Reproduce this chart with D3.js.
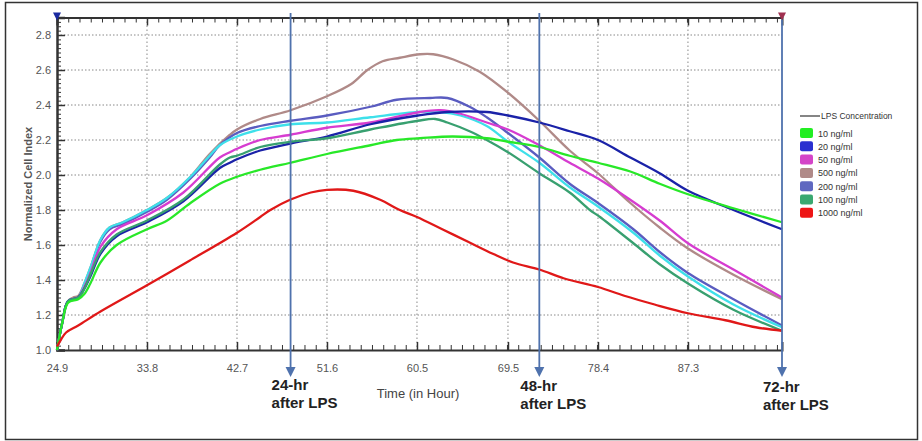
<!DOCTYPE html>
<html>
<head>
<meta charset="utf-8">
<script src="https://cdn.jsdelivr.net/npm/d3@7"></script>
<style>
  body { margin: 0; background: #fff; }
  svg { display: block; font-family: "Liberation Sans", Arial, sans-serif; }
  .tick text { fill: #555; font-size: 11px; font-family: "Liberation Sans Narrow", "Liberation Sans", Arial, sans-serif; }
</style>
</head>
<body>
<div id="chart"></div>
<script>
// x tick labels (hours) and y ticks
var xTicks = [24.9, 33.8, 42.7, 51.6, 60.5, 69.5, 78.4, 87.3];
var yTicks = [1.0, 1.2, 1.4, 1.6, 1.8, 2.0, 2.2, 2.4, 2.6, 2.8];

// [hour, normalized cell index]
var lps10 = [[24.9,1.0],[25.4,1.15],[26.0,1.27],[27.0,1.29],[27.6,1.32],[28.2,1.38],[29.2,1.50],[30.8,1.60],[33.8,1.69],[35.8,1.74],[38.1,1.84],[41.0,1.95],[42.7,1.99],[45,2.03],[48.0,2.07],[51.6,2.12],[55.9,2.17],[58.5,2.20],[60.8,2.21],[64,2.22],[67.4,2.21],[69.5,2.19],[72.6,2.16],[75.6,2.11],[78.4,2.07],[81.6,2.02],[84.5,1.95],[87.3,1.89],[91.8,1.81],[96.6,1.73]];
var lps20 = [[24.9,1.0],[25.4,1.15],[26.0,1.28],[27.0,1.30],[27.6,1.35],[28.2,1.42],[29.2,1.55],[30.8,1.65],[33.8,1.73],[37.4,1.85],[41.0,2.04],[42.0,2.07],[42.7,2.09],[45,2.14],[48.0,2.18],[51.6,2.22],[55.9,2.29],[60.6,2.34],[63.5,2.36],[67.4,2.36],[69.5,2.34],[72.6,2.30],[75.6,2.25],[78.4,2.20],[81.6,2.10],[84.5,2.01],[87.3,1.91],[91.8,1.80],[96.6,1.69]];
var lps50 = [[24.9,1.0],[25.4,1.15],[26.0,1.28],[27.0,1.30],[27.6,1.36],[28.2,1.44],[29.2,1.59],[30.8,1.69],[33.8,1.77],[37.4,1.90],[41.0,2.10],[42.0,2.13],[42.7,2.15],[45,2.20],[48.0,2.23],[51.6,2.27],[55.9,2.30],[60.8,2.36],[62.8,2.37],[64.8,2.35],[67.4,2.30],[69.5,2.26],[72.6,2.17],[75.6,2.07],[78.4,1.98],[81.3,1.87],[84.5,1.74],[87.3,1.61],[91.8,1.46],[96.6,1.30]];
var lps500 = [[24.9,1.0],[25.4,1.15],[26.0,1.28],[26.5,1.30],[27.0,1.31],[27.6,1.38],[28.2,1.47],[29.2,1.63],[30.1,1.70],[31.4,1.73],[33.8,1.80],[35.8,1.87],[38.1,1.99],[40.0,2.12],[42.0,2.23],[42.7,2.26],[45,2.32],[48.0,2.37],[51.6,2.45],[54,2.52],[55.6,2.60],[57.1,2.65],[58.8,2.67],[60.8,2.69],[62.1,2.69],[64.1,2.66],[66.7,2.59],[69.5,2.47],[72.6,2.31],[75.6,2.14],[78.4,2.01],[81.6,1.84],[84.5,1.70],[87.3,1.58],[91.8,1.43],[96.6,1.29]];
var lps200 = [[24.9,1.0],[25.4,1.15],[26.0,1.28],[27.0,1.30],[27.6,1.37],[28.2,1.46],[29.2,1.62],[30.1,1.69],[31.4,1.72],[33.8,1.79],[35.8,1.86],[38.1,1.98],[40.0,2.10],[41.0,2.17],[42.7,2.24],[45,2.28],[48.0,2.31],[51.6,2.34],[55.9,2.39],[58.5,2.43],[61.8,2.44],[63.5,2.44],[65.7,2.39],[67.4,2.33],[69.5,2.24],[72.6,2.10],[75.6,1.95],[78.4,1.84],[81.9,1.69],[84.5,1.56],[87.3,1.44],[91.8,1.29],[96.6,1.14]];
var lps100 = [[24.9,1.0],[25.4,1.15],[26.0,1.28],[27.0,1.30],[27.6,1.35],[28.2,1.43],[29.2,1.56],[30.8,1.66],[33.8,1.74],[37.4,1.86],[41.0,2.06],[42.0,2.10],[42.7,2.11],[45,2.16],[48.0,2.19],[51.6,2.21],[55.9,2.26],[60.6,2.31],[62.3,2.32],[63.5,2.30],[65.7,2.25],[67.4,2.20],[69.5,2.13],[72.6,2.01],[75.6,1.90],[77.6,1.80],[78.6,1.76],[81.9,1.61],[84.5,1.49],[87.3,1.38],[91.8,1.23],[96.6,1.11]];
var lps1000 = [[24.9,1.02],[25.3,1.06],[25.8,1.10],[27,1.14],[29.2,1.22],[33.8,1.37],[38,1.51],[42.7,1.67],[45,1.76],[46,1.80],[48,1.86],[50,1.90],[51.6,1.915],[54.2,1.91],[56.8,1.86],[58.8,1.80],[60.5,1.76],[63,1.69],[65.5,1.62],[68,1.55],[70,1.50],[72.6,1.46],[75,1.41],[78.4,1.36],[81,1.31],[84,1.26],[87.3,1.21],[91,1.17],[94,1.13],[96.6,1.11]];
// cyan trace, not listed in the legend
var unlabeled = [[24.9,1.0],[25.4,1.15],[26.0,1.28],[27.0,1.30],[27.6,1.38],[28.2,1.47],[29.2,1.63],[30.1,1.70],[31.4,1.73],[33.8,1.80],[35.8,1.87],[38.1,1.99],[40.0,2.11],[41.0,2.17],[42.7,2.22],[45,2.26],[48.0,2.29],[51.6,2.30],[55.9,2.33],[60.6,2.36],[62.8,2.36],[64.8,2.34],[67.4,2.28],[69.5,2.19],[72.6,2.07],[75.6,1.93],[78.4,1.82],[81.9,1.67],[84.5,1.54],[87.3,1.42],[91.8,1.26],[96.6,1.13]];

var legendNames = ["10 ng/ml", "20 ng/ml", "50 ng/ml", "500 ng/ml", "200 ng/ml", "100 ng/ml", "1000 ng/ml"];
var legendColors = ["#22ee22", "#2a30d0", "#d444c8", "#b08a88", "#6068c0", "#3aa870", "#ee1515"];

// markers: hours where the LPS arrows sit
var arrowHours = [48.0, 72.6, 96.6];
var arrowLabels = ["24-hr", "48-hr", "72-hr"];

var width = 922, height = 441;
var svg = d3.select("#chart").append("svg")
    .attr("width", width)
    .attr("height", height);

// outer frame
svg.append("rect")
    .attr("x", 5.5).attr("y", 2.5)
    .attr("width", 912).attr("height", 437)
    .attr("fill", "none")
    .attr("stroke", "#333")
    .attr("stroke-width", 1.5);

var x = d3.scaleLinear().domain([24.9, 96.6]).range([57, 782]);
var y = d3.scaleLinear().domain([1.0, 2.9]).range([350, 17.5]);

// dotted grid
svg.append("g").selectAll("line")
    .data(yTicks.slice(1))
    .enter().append("line")
    .attr("x1", x(24.9)).attr("x2", x(96.6))
    .attr("y1", d => y(d)).attr("y2", d => y(d))
    .attr("stroke", "#888").attr("stroke-dasharray", "1.5,2");
svg.append("g").selectAll("line")
    .data(xTicks.slice(1))
    .enter().append("line")
    .attr("x1", d => x(d)).attr("x2", d => x(d))
    .attr("y1", y(2.9)).attr("y2", y(1.0))
    .attr("stroke", "#888").attr("stroke-dasharray", "1.5,2.5");

// minor ticks
var xMinor = d3.range(24.9, 96.6, 8.9 / 8);
var yMinor = d3.range(1.0, 2.9, 0.025);

svg.append("g")
    .attr("transform", `translate(0,${y(1.0)})`)
    .call(d3.axisBottom(x).tickValues(xMinor).tickSize(-5).tickFormat(""))
    .call(g => g.select(".domain").remove())
    .selectAll("line").attr("stroke", "#333");
svg.append("g")
    .attr("transform", `translate(0,${y(2.9)})`)
    .call(d3.axisTop(x).tickValues(xMinor).tickSize(-5).tickFormat(""))
    .call(g => g.select(".domain").remove())
    .selectAll("line").attr("stroke", "#333");
svg.append("g")
    .attr("transform", `translate(${x(24.9)},0)`)
    .call(d3.axisLeft(y).tickValues(yMinor).tickSize(-4).tickFormat(""))
    .call(g => g.select(".domain").remove())
    .selectAll("line").attr("stroke", "#333");

// major axes
var xAxis = svg.append("g")
    .attr("transform", `translate(0,${y(1.0)})`)
    .call(d3.axisBottom(x).tickValues(xTicks).tickSize(-8).tickPadding(14).tickFormat(d3.format(".1f")));
xAxis.select(".domain").attr("stroke", "#333").attr("stroke-width", 2);
xAxis.selectAll(".tick line").attr("stroke", "#333").attr("stroke-width", 1.5);

var topAxis = svg.append("g")
    .attr("transform", `translate(0,${y(2.9)})`)
    .call(d3.axisTop(x).tickValues(xTicks).tickSize(-8).tickFormat(""));
topAxis.select(".domain").attr("stroke", "#333").attr("stroke-width", 2);
topAxis.selectAll(".tick line").attr("stroke", "#333").attr("stroke-width", 1.5);

var yAxis = svg.append("g")
    .attr("transform", `translate(${x(24.9)},0)`)
    .call(d3.axisLeft(y).tickValues(yTicks).tickSize(-8).tickPadding(6).tickFormat(d3.format(".1f")));
yAxis.select(".domain").attr("stroke", "#333").attr("stroke-width", 2.5);
yAxis.selectAll(".tick line").attr("stroke", "#333").attr("stroke-width", 1.5);

// axis titles
svg.append("text")
    .attr("x", 418).attr("y", 398)
    .attr("text-anchor", "middle")
    .style("font-family", "'Liberation Sans Narrow', 'Liberation Sans', Arial, sans-serif")
    .style("font-size", "13px")
    .attr("fill", "#444")
    .text("Time (in Hour)");
svg.append("text")
    .attr("transform", "translate(32,184) rotate(-90)")
    .attr("text-anchor", "middle")
    .style("font-size", "11px")
    .style("font-weight", "bold")
    .attr("fill", "#555")
    .text("Normalized Cell Index");

// curves
var line = d3.line()
    .x(d => x(d[0]))
    .y(d => y(d[1]))
    .curve(d3.curveCatmullRom.alpha(0.5));

var traces = [
    { data: lps500, color: "#b08a88" },
    { data: lps200, color: "#5a5cc0" },
    { data: unlabeled, color: "#3ee0ea" },
    { data: lps50, color: "#d63cd0" },
    { data: lps20, color: "#1a22a8" },
    { data: lps100, color: "#38a070" },
    { data: lps10, color: "#28e828" },
    { data: lps1000, color: "#e01818" }
];

svg.append("g").selectAll("path")
    .data(traces)
    .enter().append("path")
    .attr("d", d => line(d.data))
    .attr("fill", "none")
    .attr("stroke", d => d.color)
    .attr("stroke-width", 2.3)
    .attr("stroke-linejoin", "round");

// corner markers on the top axis
svg.append("path")
    .attr("d", `M${x(24.9) - 4},${y(2.9) - 5}L${x(24.9) + 4},${y(2.9) - 5}L${x(24.9)},${y(2.9) + 3}Z`)
    .attr("fill", "#1a2aa0");
svg.append("path")
    .attr("d", `M${x(96.6) - 4},${y(2.9) - 5}L${x(96.6) + 4},${y(2.9) - 5}L${x(96.6)},${y(2.9) + 3}Z`)
    .attr("fill", "#a03050");

// LPS arrows
var arrows = svg.append("g").selectAll("g")
    .data(arrowHours)
    .enter().append("g");
arrows.append("line")
    .attr("x1", d => x(d)).attr("x2", d => x(d))
    .attr("y1", (d, i) => i == 2 ? y(2.9) + 2 : 13)
    .attr("y2", 369)
    .attr("stroke", "#4f72ad")
    .attr("stroke-width", 1.8);
arrows.append("path")
    .attr("d", d => `M${x(d) - 5},367L${x(d) + 5},367L${x(d)},377Z`)
    .attr("fill", "#4f72ad");
arrows.append("text")
    .attr("x", d => x(d) - 19)
    .attr("y", (d, i) => 390 + i)
    .style("font-size", "15px")
    .style("font-weight", "bold")
    .attr("fill", "#222")
    .text((d, i) => arrowLabels[i]);
arrows.append("text")
    .attr("x", d => x(d) - 19)
    .attr("y", (d, i) => 408 + i)
    .style("font-size", "15px")
    .style("font-weight", "bold")
    .attr("fill", "#222")
    .text("after LPS");

// legend
var legend = svg.append("g").attr("transform", "translate(800,0)");
legend.append("line")
    .attr("x1", 0).attr("x2", 20)
    .attr("y1", 116).attr("y2", 116)
    .attr("stroke", "#333").attr("stroke-width", 1.2);
legend.append("text")
    .attr("x", 21).attr("y", 119)
    .style("font-size", "8.5px")
    .attr("fill", "#333")
    .text("LPS Concentration");

var items = legend.selectAll(".item")
    .data(legendNames)
    .enter().append("g")
    .attr("class", "item")
    .attr("transform", (d, i) => `translate(0,${133 + i * 13.3})`);
items.append("rect")
    .attr("x", 0).attr("y", -5)
    .attr("width", 13).attr("height", 10)
    .attr("rx", 2)
    .attr("fill", (d, i) => legendColors[i]);
items.append("text")
    .attr("x", 18).attr("y", 3.5)
    .style("font-size", "9px")
    .attr("fill", "#333")
    .text(d => d);
</script>
</body>
</html>
